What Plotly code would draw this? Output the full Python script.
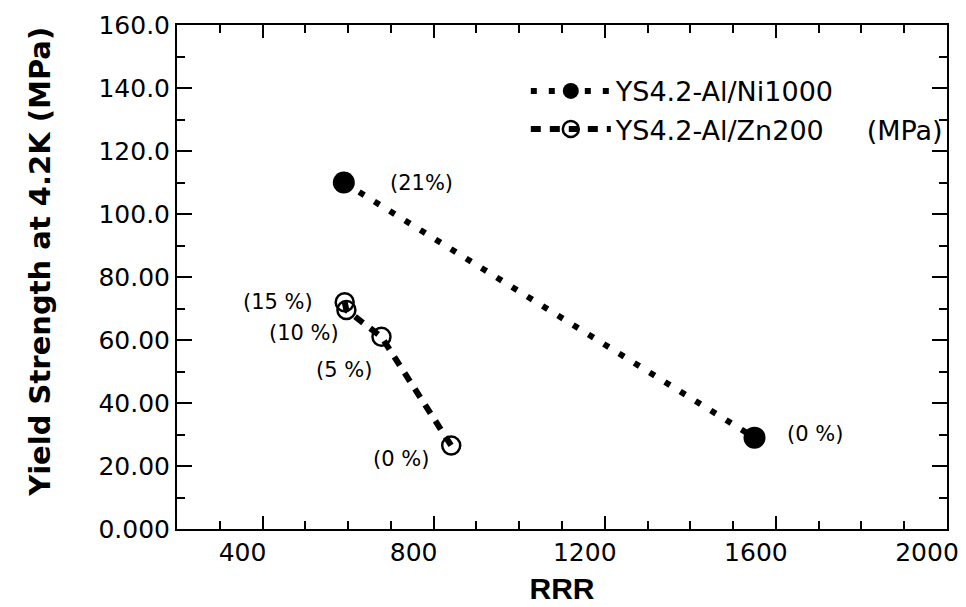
import plotly.graph_objects as go

# --- data ---
ni_rrr = [590, 1550]
ni_ys = [110, 29]
ni_labels = ["(21%)", "(0 %)"]

zn_rrr = [592, 596, 678, 841]
zn_ys = [72, 69.5, 61, 26.5]
zn_labels = ["(15 %)", "(10 %)", "(5 %)", "(0 %)"]

y_tickvals = [0, 20, 40, 60, 80, 100, 120, 140, 160]
y_ticktext = ["0.000", "20.00", "40.00", "60.00", "80.00", "100.0", "120.0", "140.0", "160.0"]
x_tickvals = [400, 800, 1200, 1600, 2000]
x_ticktext = ["400", "800", "1200", "1600", "2000"]

FONT = "DejaVu Sans"

fig = go.Figure()
fig.add_trace(go.Scatter(
    x=ni_rrr, y=ni_ys, mode="lines+markers", name="YS4.2-Al/Ni1000",
    line=dict(color="black", width=6, dash="6px,12px"),
    marker=dict(symbol="circle", size=22, color="black"),
))
fig.add_trace(go.Scatter(
    x=zn_rrr, y=zn_ys, mode="lines+markers",
    name="YS4.2-Al/Zn200\u00a0\u00a0\u00a0\u00a0\u00a0(MPa)",
    line=dict(color="black", width=6, dash="10px,9px"),
    marker=dict(symbol="circle-open", size=18, color="black", line=dict(width=2.5, color="black")),
))

ni_shift = [(78, 0), (60, 4)]
zn_shift = [(-67, 0), (-42, -23), (-37, -33), (-50, -13)]
for xv, yv, t, (dx, dy) in zip(ni_rrr, ni_ys, ni_labels, ni_shift):
    fig.add_annotation(x=xv, y=yv, text=t, showarrow=False, xshift=dx, yshift=dy,
                       font=dict(family=FONT, size=21, color="black"))
for xv, yv, t, (dx, dy) in zip(zn_rrr, zn_ys, zn_labels, zn_shift):
    fig.add_annotation(x=xv, y=yv, text=t, showarrow=False, xshift=dx, yshift=dy,
                       font=dict(family=FONT, size=21, color="black"))

# y-axis title (placed slightly above the plot centre, as in the reference)
fig.add_annotation(xref="paper", yref="paper", x=-0.178, y=0.53, xanchor="center", yanchor="middle",
                   text="<b>Yield Strength at 4.2K (MPa)</b>", textangle=-90, showarrow=False,
                   font=dict(family="DejaVu Sans", size=29, color="black"))

fig.update_xaxes(
    range=[200, 2000], showgrid=False, zeroline=False,
    showline=True, linecolor="black", linewidth=2, mirror="ticks",
    ticks="inside", ticklen=13, tickwidth=2, tickcolor="black",
    tickvals=x_tickvals, ticktext=x_ticktext, ticklabelshift=-20,
    tickfont=dict(family=FONT, size=25, color="black"),
    minor=dict(dtick=100, ticks="inside", ticklen=8, tickwidth=2, tickcolor="black", showgrid=False),
    title=dict(text="<b>RRR</b>", font=dict(family="Liberation Sans", size=30, color="black"), standoff=12),
)
fig.update_yaxes(
    range=[0, 160], showgrid=False, zeroline=False,
    showline=True, linecolor="black", linewidth=2, mirror="ticks",
    ticks="inside", ticklen=15, tickwidth=2, tickcolor="black",
    tickvals=y_tickvals, ticktext=y_ticktext,
    tickfont=dict(family=FONT, size=25, color="black"),
    minor=dict(dtick=10, ticks="inside", ticklen=8, tickwidth=2, tickcolor="black", showgrid=False),
)

fig.update_layout(
    width=958, height=599,
    margin=dict(l=169, r=19, t=17, b=78, autoexpand=False),
    paper_bgcolor="white", plot_bgcolor="white",
    showlegend=True,
    legend=dict(x=0.453, y=0.917, xanchor="left", yanchor="top",
                bgcolor="rgba(0,0,0,0)", itemwidth=80, tracegroupgap=0,
                font=dict(family=FONT, size=27, color="black")),
)

fig.write_html("out.html")
